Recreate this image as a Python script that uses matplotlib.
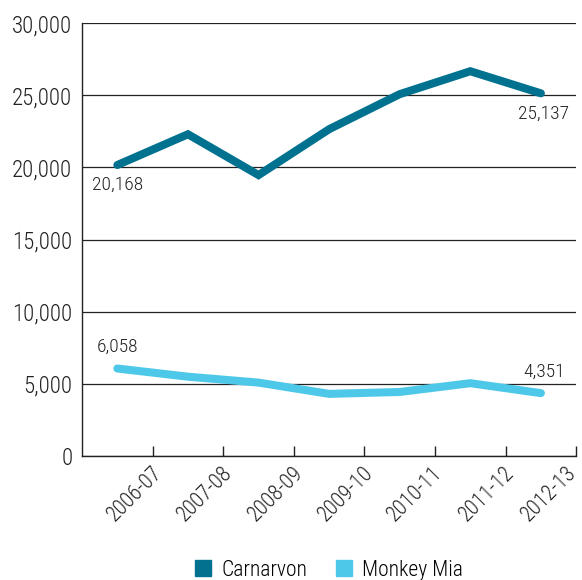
import matplotlib
matplotlib.use('Agg')
import matplotlib.pyplot as plt
import matplotlib.transforms as mtransforms
from matplotlib.lines import Line2D

plt.rcParams['font.family'] = ['Roboto Condensed', 'DejaVu Sans']
plt.rcParams['font.weight'] = 'light'

years = ['2006-07', '2007-08', '2008-09', '2009-10', '2010-11', '2011-12', '2012-13']
carnarvon = [20168, 22300, 19470, 22650, 25080, 26670, 25137]
monkey_mia = [6058, 5490, 5080, 4300, 4430, 5040, 4351]

dark = '#00728f'
light = '#4ec8e9'
ink = '#222222'

fig = plt.figure(figsize=(5.82, 5.80), dpi=100)
ax = fig.add_axes([0.141, 0.214, 0.849, 0.746])

x = list(range(len(years)))
ax.plot(x, carnarvon, color=dark, lw=5.8, solid_capstyle='round', solid_joinstyle='miter', zorder=3)
ax.plot(x, monkey_mia, color=light, lw=5.8, solid_capstyle='round', solid_joinstyle='miter', zorder=3)

# first and last values labelled
lab = dict(textcoords='offset points', ha='center', fontsize=14, color=ink)
ax.annotate(f'{carnarvon[0]:,}', (x[0], carnarvon[0]), xytext=(0, -8), va='top', **lab)
ax.annotate(f'{carnarvon[-1]:,}', (x[-1], carnarvon[-1]), xytext=(2, -8), va='top', **lab)
ax.annotate(f'{monkey_mia[0]:,}', (x[0], monkey_mia[0]), xytext=(0, 9), va='bottom', **lab)
ax.annotate(f'{monkey_mia[-1]:,}', (x[-1], monkey_mia[-1]), xytext=(2, 9), va='bottom', **lab)

ax.set_xlim(-0.5, len(years) - 0.5)
ax.set_ylim(0, 30000)
ax.set_yticks(range(0, 30001, 5000))
ax.set_yticklabels([f'{v:,}' for v in range(0, 30001, 5000)], fontsize=16.5, color=ink)
ax.tick_params(axis='y', length=0, pad=7)

ax.set_xticks([i + 0.5 for i in x])
ax.set_xticklabels(years, rotation=45, ha='right', va='baseline', rotation_mode='anchor',
                   fontsize=15.5, color=ink)
ax.tick_params(axis='x', direction='in', length=7, width=1, color=ink, pad=0)
# baseline end of each slanted label sits just right of and below its tick
shifts = [10, 10, 10, 10, 8, 9, 1]
for t, dx in zip(ax.get_xticklabels(), shifts):
    t.set_transform(t.get_transform() + mtransforms.ScaledTranslation(dx / 100, -18 / 100, fig.dpi_scale_trans))

ax.yaxis.grid(True, color=ink, lw=0.9)
ax.set_axisbelow(True)
for s in ['top', 'right']:
    ax.spines[s].set_visible(False)
for s in ['left', 'bottom']:
    ax.spines[s].set_color(ink)
    ax.spines[s].set_linewidth(1.0)

handles = [Line2D([], [], marker='s', ls='none', color=dark, markersize=11.5),
           Line2D([], [], marker='s', ls='none', color=light, markersize=11.5)]
fig.legend(handles, ['Carnarvon', 'Monkey Mia'], loc='center', bbox_to_anchor=(0.563, 0.017),
           ncol=2, frameon=False, fontsize=15.5, handletextpad=0.35, columnspacing=1.2,
           handlelength=1.0, borderpad=0)

fig.savefig('out.png', dpi=100)
